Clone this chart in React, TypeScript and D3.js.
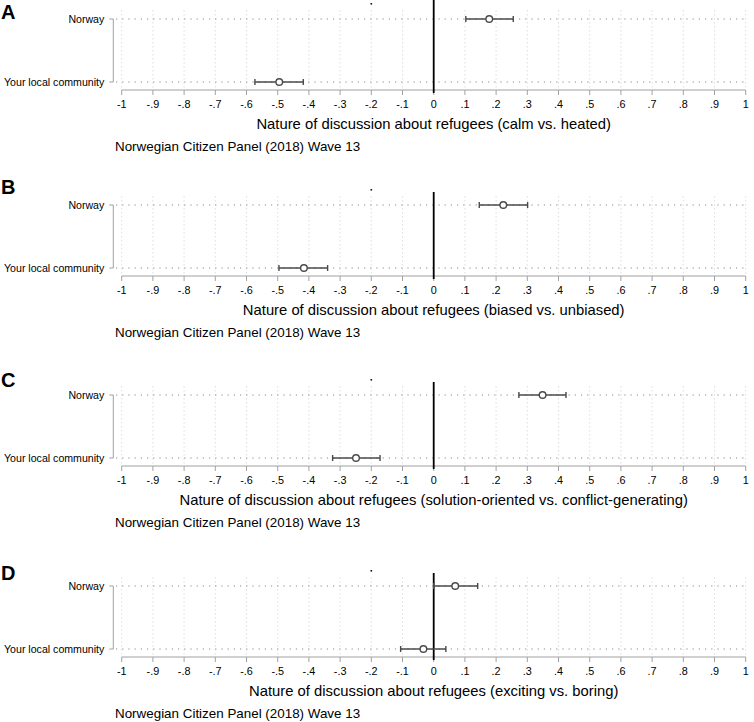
import * as d3 from 'd3';

// categories and tick labels
const rows = ['Norway', 'Your local community'];
const panelLetters = ['A', 'B', 'C', 'D'];
const panelTitles = [
  'Nature of discussion about refugees (calm vs. heated)',
  'Nature of discussion about refugees (biased vs. unbiased)',
  'Nature of discussion about refugees (solution-oriented vs. conflict-generating)',
  'Nature of discussion about refugees (exciting vs. boring)',
];
const sourceNote = 'Norwegian Citizen Panel (2018) Wave 13';
const xTicks = [-1, -0.9, -0.8, -0.7, -0.6, -0.5, -0.4, -0.3, -0.2, -0.1, 0, 0.1, 0.2, 0.3, 0.4, 0.5, 0.6, 0.7, 0.8, 0.9, 1];

// estimates with 95% CI, [Norway, Your local community]
const estA = [0.178, -0.495];
const lowA = [0.103, -0.573];
const highA = [0.255, -0.418];
const estB = [0.223, -0.416];
const lowB = [0.146, -0.496];
const highB = [0.301, -0.34];
const estC = [0.349, -0.249];
const lowC = [0.273, -0.324];
const highC = [0.424, -0.172];
const estD = [0.069, -0.033];
const lowD = [0.0, -0.106];
const highD = [0.141, 0.039];

const estimates = [estA, estB, estC, estD];
const lows = [lowA, lowB, lowC, lowD];
const highs = [highA, highB, highC, highD];

// layout
const W = 754;
const H = 722;
const rowTop = [19, 205, 395, 586];
const letterBase = [19, 194, 387, 580];
const zeroTop = [0, 192, 382, 573];
const font = '"Liberation Sans", Arial, Helvetica, sans-serif';
const barColor = '#4a4a4a';

const x = d3.scaleLinear().domain([-1, 1]).range([121.7, 745.7]);

const fmt = (v: number) => {
  if (v === 0) return '0';
  if (Math.abs(v) === 1) return v > 0 ? '1' : '-1';
  const s = d3.format('.1f')(v);
  return s.replace('0.', '.').replace('−', '-');
};

function Panel({ i }: { i: number }) {
  const top = rowTop[i];
  const y = d3.scalePoint<string>().domain(rows).range([top, top + 63]);
  const axisY = top + 71;
  const yAxisX = 113.3;

  return (
    <g>
      <text x={1} y={letterBase[i]} fontSize={20} fontWeight="bold" fontFamily={font}>
        {panelLetters[i]}
      </text>

      {/* vertical grid */}
      {xTicks.map((t) => (
        <line
          key={`vg${t}`}
          x1={x(t)}
          x2={x(t)}
          y1={top - 9}
          y2={axisY - 1}
          stroke="#d6d6d6"
          strokeWidth={0.8}
          strokeDasharray="1.5 2.5"
        />
      ))}

      {/* horizontal grid */}
      {rows.map((r) => (
        <line
          key={`hg${r}`}
          x1={116}
          x2={745.7}
          y1={y(r)!}
          y2={y(r)!}
          stroke="#8a8a8a"
          strokeWidth={1}
          strokeDasharray="1.2 5"
        />
      ))}

      {/* y axis */}
      <line x1={yAxisX} x2={yAxisX} y1={y(rows[0])!} y2={y(rows[1])!} stroke="#a0a0a0" strokeWidth={1} />
      {rows.map((r) => (
        <g key={`yt${r}`}>
          <line x1={yAxisX - 4} x2={yAxisX} y1={y(r)!} y2={y(r)!} stroke="#a0a0a0" strokeWidth={1} />
          <text
            x={yAxisX - 9}
            y={y(r)!}
            dy="0.35em"
            textAnchor="end"
            fontSize={10.6}
            fontFamily={font}
          >
            {r}
          </text>
        </g>
      ))}

      {/* x axis */}
      <line x1={x(-1)} x2={x(1)} y1={axisY} y2={axisY} stroke="#a0a0a0" strokeWidth={1} />
      {xTicks.map((t) => (
        <g key={`xt${t}`}>
          <line x1={x(t)} x2={x(t)} y1={axisY} y2={axisY + 5} stroke="#a0a0a0" strokeWidth={1} />
          <text x={x(t)} y={axisY + 18} textAnchor="middle" fontSize={10.8} fontFamily={font}>
            {fmt(t)}
          </text>
        </g>
      ))}

      {/* stray marker at -.2 */}
      <rect x={x(-0.2) - 0.8} y={top - 16} width={1.6} height={1.6} fill="#111" />

      {/* zero reference line */}
      <line x1={x(0)} x2={x(0)} y1={zeroTop[i]} y2={axisY + 3} stroke="#000" strokeWidth={1.8} />

      {/* estimates */}
      {rows.map((r, j) => {
        const cy = y(r)!;
        return (
          <g key={`e${r}`} stroke={barColor} strokeWidth={1.4} fill="none">
            <line x1={x(lows[i][j])} x2={x(highs[i][j])} y1={cy} y2={cy} />
            <line x1={x(lows[i][j])} x2={x(lows[i][j])} y1={cy - 3} y2={cy + 3} />
            <line x1={x(highs[i][j])} x2={x(highs[i][j])} y1={cy - 3} y2={cy + 3} />
            <circle cx={x(estimates[i][j])} cy={cy} r={3.3} fill="#fff" />
          </g>
        );
      })}

      <text x={x(0)} y={top + 110} textAnchor="middle" fontSize={14.8} fontFamily={font}>
        {panelTitles[i]}
      </text>
      <text x={115} y={top + 132} fontSize={13.4} fontFamily={font}>
        {sourceNote}
      </text>
    </g>
  );
}

export default function App() {
  return (
    <svg
      width={W}
      height={H}
      viewBox={`0 0 ${W} ${H}`}
      style={{ position: 'absolute', left: 0, top: 0, background: '#fff' }}
    >
      <rect width={W} height={H} fill="#fff" />
      {panelLetters.map((_, i) => (
        <Panel key={i} i={i} />
      ))}
    </svg>
  );
}
